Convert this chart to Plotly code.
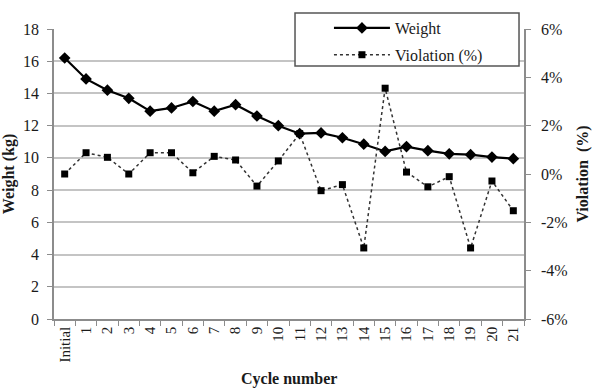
import plotly.graph_objects as go

categories = ["Initial"] + [str(i) for i in range(1, 22)]
weight_kg = [16.2, 14.9, 14.2, 13.7, 12.9, 13.1, 13.5, 12.9, 13.3, 12.6, 12.0,
             11.5, 11.55, 11.25, 10.85, 10.4, 10.7, 10.45, 10.25, 10.2, 10.05, 9.95]
violation = [0.0, 0.0088, 0.0069, 0.0, 0.0088, 0.0088, 0.0005, 0.0073, 0.0058, -0.005, 0.0054,
             0.0167, -0.0069, -0.0044, -0.0306, 0.0355, 0.0008, -0.0053, -0.0011, -0.0306,
             -0.0029, -0.0152]
left_ticks = list(range(0, 20, 2))
right_ticks = [-0.06, -0.04, -0.02, 0.0, 0.02, 0.04, 0.06]
right_tick_labels = ["-6%", "-4%", "-2%", "0%", "2%", "4%", "6%"]

FONT = "Liberation Serif"
AXIS_COLOR = "#8c8c8c"
GRID_COLOR = "#c4c4c4"

fig = go.Figure()
fig.add_trace(go.Scatter(
    x=categories, y=weight_kg, name="Weight", mode="lines+markers",
    line=dict(color="black", width=2.2),
    marker=dict(symbol="diamond", size=9, color="black"),
    legendgroup="a", yaxis="y"))
fig.add_trace(go.Scatter(
    x=categories, y=violation, name="Violation (%)", mode="lines+markers",
    line=dict(color="#333333", width=1.5, dash="dot"),
    marker=dict(symbol="square", size=7, color="black"),
    legendgroup="b", yaxis="y2"))

fig.update_layout(
    width=593, height=388,
    margin=dict(l=54, r=69, t=29, b=69, autoexpand=False),
    paper_bgcolor="white", plot_bgcolor="white",
    font=dict(family=FONT, size=16, color="#1a1a1a"),
    showlegend=True,
    legend=dict(x=0.585, y=1.062, xanchor="left", yanchor="top",
                bgcolor="rgba(0,0,0,0)", borderwidth=0,
                itemwidth=56, tracegroupgap=3, traceorder="grouped",
                font=dict(family=FONT, size=16, color="#1a1a1a")),
    xaxis=dict(
        type="category", categoryorder="array", categoryarray=categories,
        range=[-0.5, len(categories) - 0.5], automargin=False,
        tickangle=-90, tickson="boundaries", ticks="outside", ticklen=5,
        tickcolor=AXIS_COLOR, showline=True, linecolor=AXIS_COLOR, linewidth=1.5,
        showgrid=False, zeroline=False, tickfont=dict(size=15),
    ),
    yaxis=dict(
        range=[0, 18], tickvals=left_ticks, ticks="outside", ticklen=5, automargin=False,
        tickcolor=AXIS_COLOR, showline=True, linecolor=AXIS_COLOR, linewidth=1.5,
        showgrid=True, gridcolor=GRID_COLOR, gridwidth=2, zeroline=False,
        ticklabelstandoff=5,
        title=dict(text="<b>Weight (kg)</b>", standoff=6, font=dict(size=16)),
    ),
    yaxis2=dict(
        range=[-0.06, 0.06], tickvals=right_ticks, ticktext=right_tick_labels,
        automargin=False,
        overlaying="y", side="right", ticks="outside", ticklen=5,
        tickcolor=AXIS_COLOR, showline=True, linecolor=AXIS_COLOR, linewidth=1.5,
        showgrid=False, zeroline=False, ticklabelstandoff=7,
        title=dict(text="<b>Violation  (%)</b>", standoff=10, font=dict(size=16)),
    ),
    shapes=[dict(type="rect", xref="paper", yref="paper",
                 x0=0.5128, x1=0.9894, y0=0.8724, y1=1.0552,
                 line=dict(color="#555555", width=1.5), fillcolor="white", layer="above")],
    annotations=[dict(text="<b>Cycle number</b>", xref="paper", yref="paper",
                      x=0.5, y=0, xanchor="center", yanchor="top", yshift=-49,
                      showarrow=False, font=dict(family=FONT, size=16, color="#1a1a1a"))],
)

fig.write_html("out.html")
